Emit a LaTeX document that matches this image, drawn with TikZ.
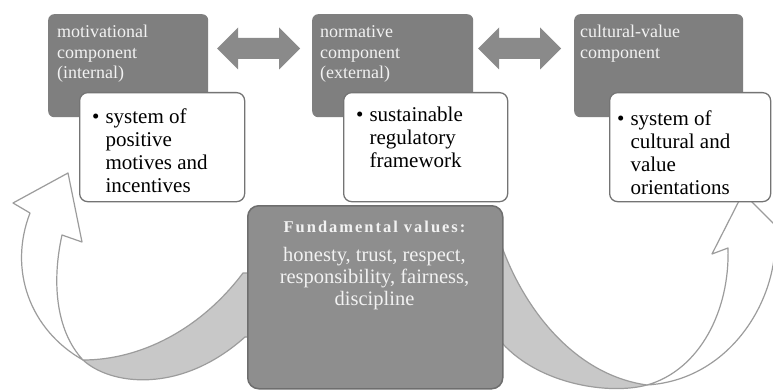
\documentclass[tikz,border=0pt]{standalone}
\usepackage{fontspec}
\setmainfont{Liberation Serif}
\definecolor{dkgray}{HTML}{7F7F7F}
\definecolor{arrgray}{HTML}{8A8A8A}
\definecolor{fundgray}{HTML}{8E8E8E}
\definecolor{fundline}{HTML}{6E6E6E}
\definecolor{wline}{HTML}{747474}
\definecolor{ribfill}{HTML}{C8C8C8}
\definecolor{ribline}{HTML}{9C9C9C}
\definecolor{lighttext}{HTML}{F2F2F2}
\begin{document}
\begin{tikzpicture}[x=1pt,y=-1pt,
  darkbox/.style={fill=dkgray, draw=none, rounded corners=6pt, minimum width=#1, minimum height=103pt, anchor=north west, inner sep=0pt},
  whitebox/.style={fill=white, draw=wline, line width=1.3pt, rounded corners=8pt, minimum width=#1, minimum height=109pt, anchor=north west, inner sep=0pt},
  fundbox/.style={fill=fundgray, draw=fundline, line width=1.5pt, rounded corners=11pt, anchor=north west, inner sep=0pt},
  darktext/.style={text=lighttext, font=\fontsize{18}{20.5}\selectfont, anchor=base west, inner sep=0pt},
  whitetext/.style={text=black, font=\fontsize{21}{23}\selectfont, anchor=base west, inner sep=0pt},
  ribgray/.style={fill=ribfill, draw=ribline, line width=1.2pt, line join=round},
  ribwhite/.style={fill=white, draw=ribline, line width=1.2pt, line join=round},
  dblarr/.pic={\fill[arrgray] (-41.5,0) -- (-20.5,-21) -- (-20.5,-10.5) -- (20.5,-10.5) -- (20.5,-21) -- (41.5,0) -- (20.5,21) -- (20.5,10.5) -- (-20.5,10.5) -- (-20.5,21) -- cycle;}
]
\clip (0,0) rectangle (773,390);
\fill[white] (0,0) rectangle (773,390);

% dark component boxes
\node[darkbox=160pt] (m1) at (48,14) {};
\node[darkbox=161pt] (m2) at (312,14) {};
\node[darkbox=169pt] (m3) at (574,14) {};

\node[darktext] (m1t) at (57,38) {\begin{tabular}[t]{@{}l@{}}motivational\\component\\(internal)\end{tabular}};
\node[darktext] (m2t) at (320,38) {\begin{tabular}[t]{@{}l@{}}normative\\component\\(external)\end{tabular}};
\node[darktext] (m3t) at (580,38) {\begin{tabular}[t]{@{}l@{}}cultural-value\\component\end{tabular}};

% double arrows
\coordinate (a12) at (258.5,48.5);
\coordinate (a23) at (519.5,48.5);
\pic at (a12) {dblarr};
\pic at (a23) {dblarr};

% curved ribbons
\coordinate (xl) at (83,360);
\coordinate (xr) at (647,385);
\filldraw[ribgray] (255,273) -- (243,273) .. controls (200,330) and (140,360) .. (xl)
   .. controls (110,385) and (180,395) .. (245,337) -- (255,337) -- cycle;
\filldraw[ribwhite] (xl) .. controls (30,330) and (8,270) .. (30,213) -- (13,203) -- (68,173)
   -- (82,242) -- (62,235) .. controls (52,280) and (55,330) .. (xl) -- cycle;

\filldraw[ribgray] (495,247) -- (502,247) .. controls (525,310) and (575,375) .. (xr)
   .. controls (610,395) and (540,385) .. (502,343) -- (495,343) -- cycle;
\filldraw[ribwhite] (xr) .. controls (730,380) and (778,300) .. (775,236) -- (792,242) -- (743,193)
   -- (712,254) -- (728,248) .. controls (730,310) and (700,370) .. (xr) -- cycle;

% white boxes
\node[whitebox=165pt] (w1) at (79,92) {};
\node[whitebox=164pt] (w2) at (343,92) {};
\node[whitebox=161pt] (w3) at (609,92) {};

\node[whitetext] (w1t) at (92,124) {\begin{tabular}[t]{@{}l@{\hspace{6pt}}l@{}}\textbullet & system of\\ & positive\\ & motives and\\ & incentives\end{tabular}};
\node[whitetext] (w2t) at (356,122) {\begin{tabular}[t]{@{}l@{\hspace{6pt}}l@{}}\textbullet & sustainable\\ & regulatory\\ & framework\end{tabular}};
\node[whitetext] (w3t) at (617,126) {\begin{tabular}[t]{@{}l@{\hspace{6pt}}l@{}}\textbullet & system of\\ & cultural and\\ & value\\ & orientations\end{tabular}};

% fundamental values
\node[fundbox, minimum width=255pt, minimum height=183pt] (fv) at (247,205) {};
\node[text=lighttext, anchor=base, inner sep=0pt, font=\fontsize{16.5}{20}\selectfont\bfseries\addfontfeature{LetterSpace=12}] (fvt) at (374.5,232) {Fundamental values:};
\node[text=lighttext, anchor=base, inner sep=0pt, font=\fontsize{20.5}{22}\selectfont] (fvb) at (374.5,261) {\begin{tabular}[t]{@{}c@{}}honesty, trust, respect,\\responsibility, fairness,\\discipline\end{tabular}};
\end{tikzpicture}
\end{document}
